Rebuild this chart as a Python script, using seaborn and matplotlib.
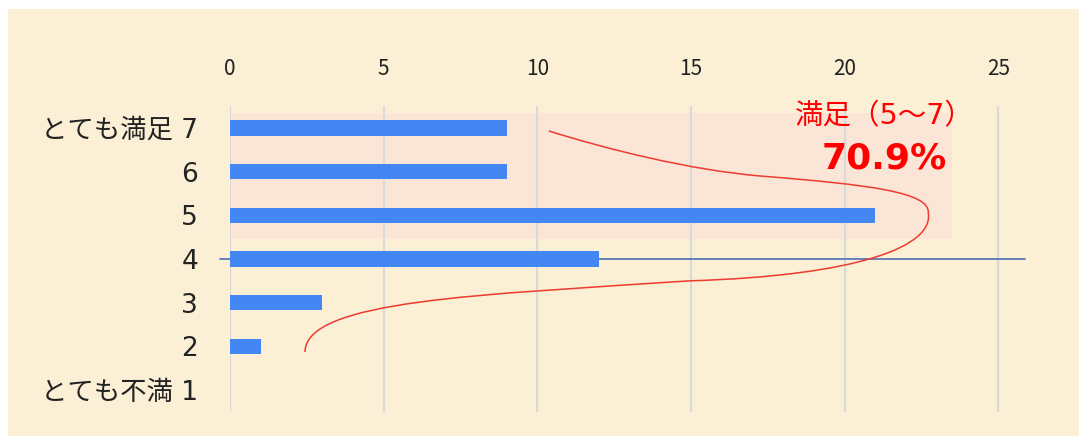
import matplotlib
matplotlib.use("Agg")
import matplotlib.pyplot as plt
from matplotlib.patches import Rectangle, PathPatch
from matplotlib.path import Path
import seaborn as sns
import pandas as pd

# Survey results: number of responses per satisfaction score
scores = [7, 6, 5, 4, 3, 2, 1]
labels = ["とても満足 7", "6", "5", "4", "3", "2", "とても不満 1"]
counts = [9, 9, 21, 12, 3, 1, 0]
x_ticks = [0, 5, 10, 15, 20, 25]

BG = "#FBF0D5"
PINK = "#FBE5D7"
BAR = "#4487F2"
RED = "#FF0000"
LATIN_FIRST = ["DejaVu Sans", "Noto Sans CJK JP"]

sns.set_theme(style="white")
plt.rcParams["font.family"] = ["Noto Sans CJK JP", "DejaVu Sans"]

df = pd.DataFrame({"label": labels, "count": counts, "score": scores})

fig = plt.figure(figsize=(10.79, 4.36), dpi=100)
fig.patch.set_facecolor("white")
fig.patches.append(Rectangle((8 / 1079, 0), 1, 1 - 9 / 436, transform=fig.transFigure,
                             facecolor=BG, edgecolor="none", zorder=-10))

ax = fig.add_axes([230 / 1079, 1 - 412 / 436, (1026 - 230) / 1079, (412 - 106) / 436])
ax.set_facecolor("none")

# shaded band for the "satisfied" group (scores 5-7)
ax.add_patch(Rectangle((0, -0.34), 23.5, 2.89, facecolor=PINK, edgecolor="none", zorder=0))

sns.barplot(data=df, y="label", x="count", order=labels, orient="h", width=0.35,
            color=BAR, saturation=1, linewidth=0, ax=ax, zorder=3)

ax.set_xlim(0, 25.9)
ax.set_ylim(6.5, -0.5)
ax.set_xticks(x_ticks)
ax.set_xticklabels([str(t) for t in x_ticks])
ax.xaxis.tick_top()
ax.grid(axis="x", color="#D9D9D9", linewidth=1.6, zorder=1)
ax.grid(axis="y", visible=False)
for s in ax.spines.values():
    s.set_visible(False)
ax.tick_params(axis="x", length=0, pad=19, labelsize=15, colors="#222222")
ax.tick_params(axis="y", length=0, pad=23, labelsize=19, colors="#222222")
for t in ax.get_yticklabels():
    t.set_family(LATIN_FIRST)
ax.set_xlabel("")
ax.set_ylabel("")

# reference line at the neutral score
mid = labels.index("4")
ax.plot([-0.33, 25.88], [mid, mid], color="#5878B8", linewidth=1.3, clip_on=False, zorder=2)

# brace-like curve grouping the satisfied scores
verts = [(10.37, 0.07), (12.32, 0.50), (14.95, 0.96), (17.23, 1.10),
         (20.8, 1.30), (22.79, 1.47), (22.72, 1.95),
         (22.9, 2.7), (20.5, 3.38), (14.95, 3.50),
         (8.13, 3.82), (2.44, 3.94), (2.44, 5.13)]
codes = [Path.MOVETO] + [Path.CURVE4] * 12
ax.add_patch(PathPatch(Path(verts, codes), facecolor="none", edgecolor="#EE3B2F",
                       linewidth=1.1, zorder=4, clip_on=False))

total = sum(counts)
satisfied = sum(c for c, s in zip(counts, scores) if s >= 5)
pct = satisfied / total * 100

ax.text(24.2, -0.27, "満足（5〜7）", color=RED, fontsize=20.5, ha="right", va="center",
        family=LATIN_FIRST, zorder=5)
ax.text(23.34, 0.69, f"{pct:.1f}%", color=RED, fontsize=26, fontweight="bold",
        ha="right", va="center", family=LATIN_FIRST, zorder=5)

fig.savefig("out.png", dpi=100)
